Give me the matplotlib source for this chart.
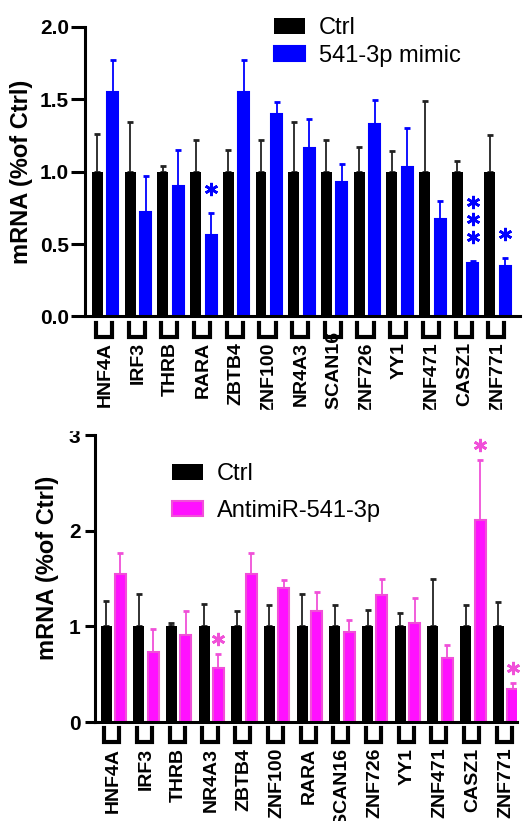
import numpy as np
import matplotlib
matplotlib.use("Agg")
import matplotlib.pyplot as plt
from matplotlib.patches import Rectangle
from matplotlib.transforms import ScaledTranslation

plt.rcParams["font.family"] = ["Liberation Sans", "DejaVu Sans"]

# Data
genes_top = ["HNF4A", "IRF3", "THRB", "RARA", "ZBTB4", "ZNF100", "NR4A3",
             "ZSCAN16", "ZNF726", "YY1", "ZNF471", "CASZ1", "ZNF771"]
ctrl_top = [1.0] * 13
ctrl_top_err = [0.26, 0.34, 0.04, 0.22, 0.15, 0.22, 0.34, 0.22, 0.17, 0.14, 0.49, 0.07, 0.25]
mimic = [1.55, 0.72, 0.90, 0.56, 1.55, 1.40, 1.16, 0.93, 1.33, 1.03, 0.67, 0.37, 0.35]
mimic_err = [0.22, 0.25, 0.25, 0.155, 0.22, 0.08, 0.20, 0.12, 0.165, 0.27, 0.125, 0.015, 0.055]
sig_top = [0, 0, 0, 1, 0, 0, 0, 0, 0, 0, 0, 3, 1]

genes_bot = ["HNF4A", "IRF3", "THRB", "NR4A3", "ZBTB4", "ZNF100", "RARA",
             "ZSCAN16", "ZNF726", "YY1", "ZNF471", "CASZ1", "ZNF771"]
ctrl_bot = [1.0] * 13
ctrl_bot_err = [0.26, 0.34, 0.04, 0.23, 0.16, 0.22, 0.34, 0.22, 0.17, 0.14, 0.49, 0.22, 0.25]
anti = [1.55, 0.73, 0.91, 0.56, 1.55, 1.40, 1.16, 0.94, 1.33, 1.035, 0.67, 2.11, 0.35]
anti_err = [0.22, 0.245, 0.25, 0.155, 0.22, 0.085, 0.20, 0.125, 0.165, 0.265, 0.13, 0.63, 0.055]
sig_bot = [0, 0, 0, 1, 0, 0, 0, 0, 0, 0, 0, 1, 1]

BLUE = "#0000ff"
PINK_FACE = "#ff10ff"
PINK_EDGE = "#f050d8"
W, H = 532, 821

fig = plt.figure(figsize=(W / 100, H / 100), dpi=100)


def px_axes(left, right, top, bottom):
    return fig.add_axes([left / W, 1 - bottom / H, (right - left) / W, (bottom - top) / H])


def panel(ax, genes, ctrl, ctrl_err, treat, treat_err, sig, offset, tcolor, tedge,
          ecolor, label, ymax, ytl, xlim, yfs, ticklen, tickpad, sig_gap):
    x = np.arange(len(genes))
    w = 0.336
    b1 = ax.bar(x, ctrl, w, color="black", zorder=2, label="Ctrl")
    b2 = ax.bar(x + offset, treat, w, color=tcolor, edgecolor=tedge, linewidth=1.5,
                zorder=2, label=label)
    ax.errorbar(x, ctrl, yerr=[np.zeros(len(x)), ctrl_err], fmt="none", ecolor="#222222",
                elinewidth=1.3, capsize=2.2, capthick=2, zorder=1)
    ax.errorbar(x + offset, treat, yerr=[np.zeros(len(x)), treat_err], fmt="none",
                ecolor=ecolor, elinewidth=1.3, capsize=2.2, capthick=2, zorder=1)

    # significance asterisks, stacked above the error bar
    px2data = ymax / (ax.get_position().height * H)
    for xi, t, e, n in zip(x + offset, treat, treat_err, sig):
        for k in range(n):
            ax.plot(xi, t + e + (sig_gap + 17.5 * k) * px2data, marker=(6, 2, 0), ms=9.5,
                    mew=1.9, color=ecolor, clip_on=False, zorder=5)

    ax.set_xlim(*xlim)
    ax.set_ylim(0, ymax)
    ax.set_yticks(ytl[0])
    ax.set_yticklabels(ytl[1], fontsize=yfs, fontweight="bold")
    ax.tick_params(axis="y", length=ticklen, width=2.2, pad=tickpad)
    ax.set_xticks(x + offset / 2)
    ax.set_xticklabels(genes, rotation=90, fontsize=14, fontweight="bold", va="top")
    ax.tick_params(axis="x", length=0, pad=18.5)
    for s in ["top", "right"]:
        ax.spines[s].set_visible(False)
    for s in ["left", "bottom"]:
        ax.spines[s].set_linewidth(2.2)

    # group brackets under the x axis
    trans = ax.get_xaxis_transform()
    for xi in x:
        ax.plot([xi - 0.05, xi - 0.05, xi + offset - 0.03, xi + offset - 0.03],
                [-0.022, -0.071, -0.071, -0.022], color="black", lw=3,
                transform=trans, clip_on=False, solid_joinstyle="miter")
    return b1, b2


ax1 = px_axes(85, 520, 26.7, 316.5)
h1 = panel(ax1, genes_top, ctrl_top, ctrl_top_err, mimic, mimic_err, sig_top, 0.474,
           BLUE, BLUE, BLUE, "541-3p mimic", 2.0,
           ([0, 0.5, 1.0, 1.5, 2.0], ["0.0", "0.5", "1.0", "1.5", "2.0"]),
           (-0.382, 12.92), 15, 10, 1.5, 24)
ax1.set_ylabel("mRNA (%of Ctrl)", fontsize=17, fontweight="bold")
ax1.yaxis.set_label_coords(-0.12, 0.5)
ax1.legend(handles=h1, loc="upper left", bbox_to_anchor=(274 / W, 1 - 17 / H),
           bbox_transform=fig.transFigure, frameon=False, fontsize=17,
           handlelength=1.3, handleheight=0.64, handletextpad=0.6,
           labelspacing=0.25, borderpad=0, borderaxespad=0)
# ZSCAN16 label sits a little higher in the original
lab = ax1.get_xticklabels()[7]
lab.set_transform(lab.get_transform() + ScaledTranslation(0, 11 / 100, fig.dpi_scale_trans))

ax2 = px_axes(94.5, 517, 435, 722)
h2 = panel(ax2, genes_bot, ctrl_bot, ctrl_bot_err, anti, anti_err, sig_bot, 0.44,
           PINK_FACE, PINK_EDGE, PINK_EDGE, "AntimiR-541-3p", 3.0,
           ([0, 1, 2, 3], ["0", "1", "2", "3"]), (-0.352, 12.57), 15, 7, 3, 15)
ax2.set_ylabel("mRNA (%of Ctrl)", fontsize=17, fontweight="bold")
ax2.yaxis.set_label_coords(-0.084, 0.537)
ax2.legend(handles=h2, loc="upper left", bbox_to_anchor=(172 / W, 1 - 463 / H),
           bbox_transform=fig.transFigure, frameon=False, fontsize=17,
           handlelength=1.3, handleheight=0.64, handletextpad=0.6,
           labelspacing=0.62, borderpad=0, borderaxespad=0)

# white band: the original is two cropped images stacked
fig.patches.append(Rectangle((0, 1 - 430 / H), 1, 20 / H, transform=fig.transFigure,
                             color="white", zorder=10))

fig.savefig("out.png", dpi=100)
